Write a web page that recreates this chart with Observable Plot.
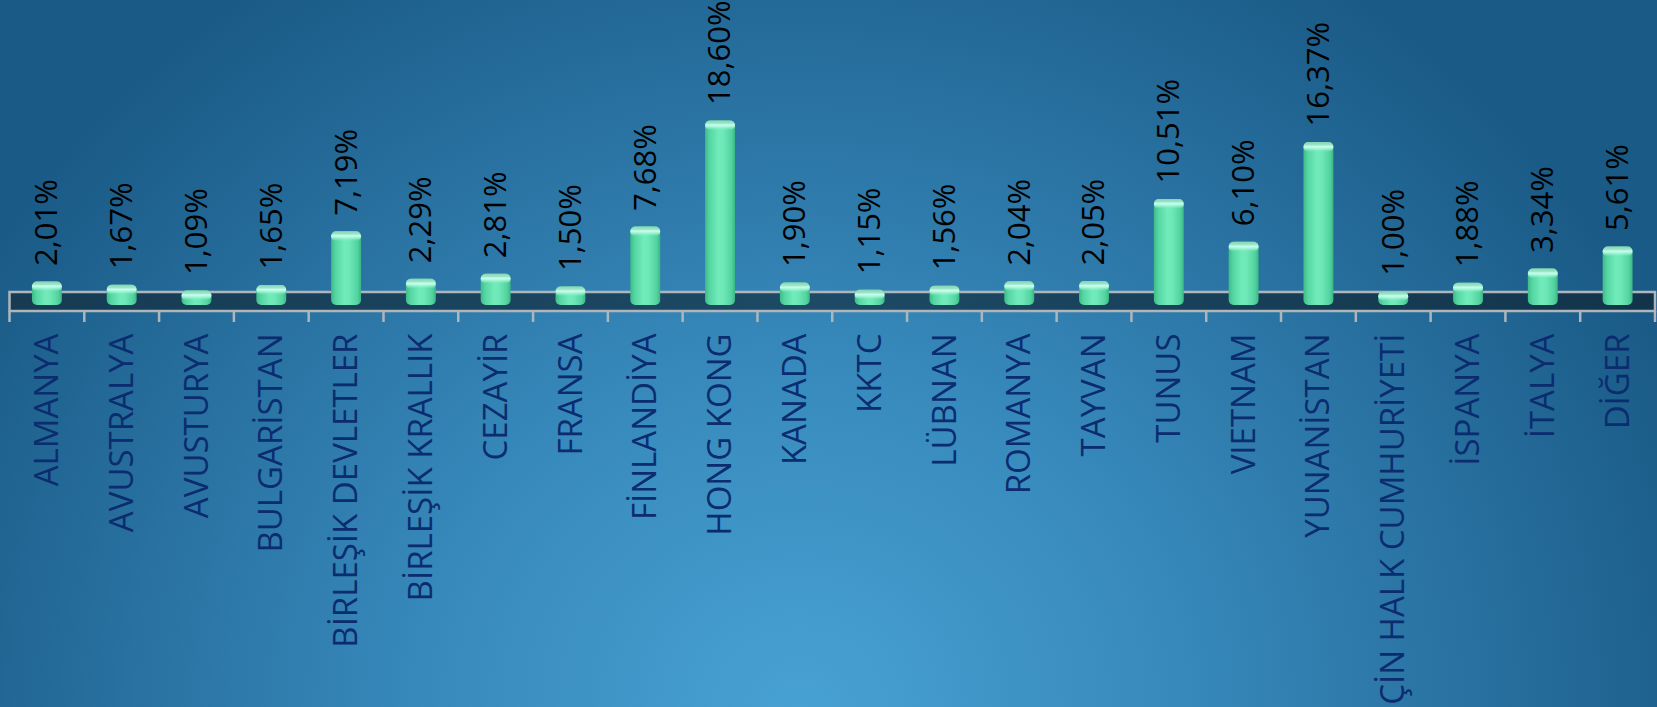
<!DOCTYPE html>
<html>
<head>
<meta charset="utf-8">
<script src="https://cdn.jsdelivr.net/npm/d3@7"></script>
<script src="https://cdn.jsdelivr.net/npm/@observablehq/plot@0.6"></script>
<style>
  html, body { margin: 0; padding: 0; background: #1a5a86; }
  #chart svg { display: block; }
</style>
</head>
<body>
<div id="chart"></div>
<script>
const categories = ["ALMANYA","AVUSTRALYA","AVUSTURYA","BULGARİSTAN","BİRLEŞİK DEVLETLER","BİRLEŞİK KRALLIK","CEZAYİR","FRANSA","FİNLANDİYA","HONG KONG","KANADA","KKTC","LÜBNAN","ROMANYA","TAYVAN","TUNUS","VIETNAM","YUNANİSTAN","ÇİN HALK CUMHURİYETİ","İSPANYA","İTALYA","DİĞER"];
const shares = [2.01,1.67,1.09,1.65,7.19,2.29,2.81,1.50,7.68,18.60,1.90,1.15,1.56,2.04,2.05,10.51,6.10,16.37,1.00,1.88,3.34,5.61];

const rows = categories.map((c, i) => ({cat: c, val: shares[i], label: shares[i].toFixed(2).replace(".", ",") + "%"}));

function pickScales(args) {
  if (args[1] && typeof args[1].x === "function") return args[1];
  return args[0];
}
function bandInfo(sx) {
  const step = sx(categories[1]) - sx(categories[0]);
  let bw = typeof sx.bandwidth === "function" ? sx.bandwidth() : (typeof sx.bandwidth === "number" ? sx.bandwidth : step * 0.4);
  return {step, bw};
}

// gradient definitions
const defsMark = (...args) => {
  const g = d3.create("svg:g");
  const defs = g.append("defs");
  const bar = defs.append("linearGradient").attr("id", "barGrad").attr("x1", 0).attr("x2", 1).attr("y1", 0).attr("y2", 0);
  [["0%","#3dbb89"],["15%","#55d6a2"],["45%","#72ebbb"],["60%","#6fe8b7"],["88%","#52d39f"],["100%","#3ab685"]]
    .forEach(([o,c]) => bar.append("stop").attr("offset", o).attr("stop-color", c));
  const cap = defs.append("linearGradient").attr("id", "capGrad").attr("x1", 0).attr("x2", 0).attr("y1", 0).attr("y2", 1);
  [["0%","#86d3b3",1],["30%","#9fe6c8",1],["45%","#c8fff0",1],["65%","#b6fbe2",0.8],["100%","#7ff0c2",0]]
    .forEach(([o,c,a]) => cap.append("stop").attr("offset", o).attr("stop-color", c).attr("stop-opacity", a));
  const floor = defs.append("linearGradient").attr("id", "floorGrad").attr("x1", 0).attr("x2", 1).attr("y1", 0).attr("y2", 0);
  [["0%","#163b53"],["50%","#1d4a66"],["100%","#12344a"]]
    .forEach(([o,c]) => floor.append("stop").attr("offset", o).attr("stop-color", c));
  return g.node();
};

// 3D floor + tick marks, positioned with the plot's scales
const floorMark = (...args) => {
  const s = pickScales(args);
  const sx = s.x, sy = s.y;
  const {step, bw} = bandInfo(sx);
  const left = sx(categories[0]) - step * 0.3;
  const right = sx(categories[categories.length - 1]) + bw + step * 0.3;
  const y0 = sy(0);
  const g = d3.create("svg:g");
  g.append("rect")
    .attr("x", left).attr("y", y0 - 9).attr("width", right - left).attr("height", 19)
    .attr("fill", "url(#floorGrad)").attr("stroke", "#aeb6bb").attr("stroke-width", 2.5);
  const bounds = categories.map(c => sx(c) - step * 0.3).concat([right]);
  g.selectAll("line").data(bounds).join("line")
    .attr("x1", d => d).attr("x2", d => d)
    .attr("y1", y0 + 10).attr("y2", y0 + 21)
    .attr("stroke", "#aeb6bb").attr("stroke-width", 2.5);
  return g.node();
};

const chart = Plot.plot({
  width: 1657,
  height: 707,
  margin: 0,
  style: {
    background: "radial-gradient(ellipse 950px 880px at 800px 707px, #48a1d3 0%, #3789bb 40%, #1a5a86 100%)",
    overflow: "visible"
  },
  x: {type: "band", domain: categories, range: [9.5, 1655], paddingInner: 0.6, paddingOuter: 0.3, round: false, axis: null},
  y: {domain: [0, 20], range: [301, 301 - 20 * 9.71], axis: null},
  marks: [
    defsMark,
    floorMark,
    Plot.barY(rows, {x: "cat", y: "val", fill: "url(#barGrad)", rx: 5, insetBottom: -4}),
    Plot.barY(rows, {x: "cat", y1: "val", y2: "val", fill: "url(#capGrad)", rx: 5, insetBottom: -10}),
    Plot.text(rows, {x: "cat", y: "val", text: "label", rotate: -90, textAnchor: "start", dy: -16,
      fontSize: 31, fill: "#000000", fontFamily: "Open Sans"}),
    Plot.text(rows, {x: "cat", y: () => 0, text: "cat", rotate: -90, textAnchor: "end", dy: 32,
      fontSize: 33, fill: "#0b2c6e", fontFamily: "Open Sans"})
  ]
});
document.getElementById("chart").appendChild(chart);
</script>
</body>
</html>
